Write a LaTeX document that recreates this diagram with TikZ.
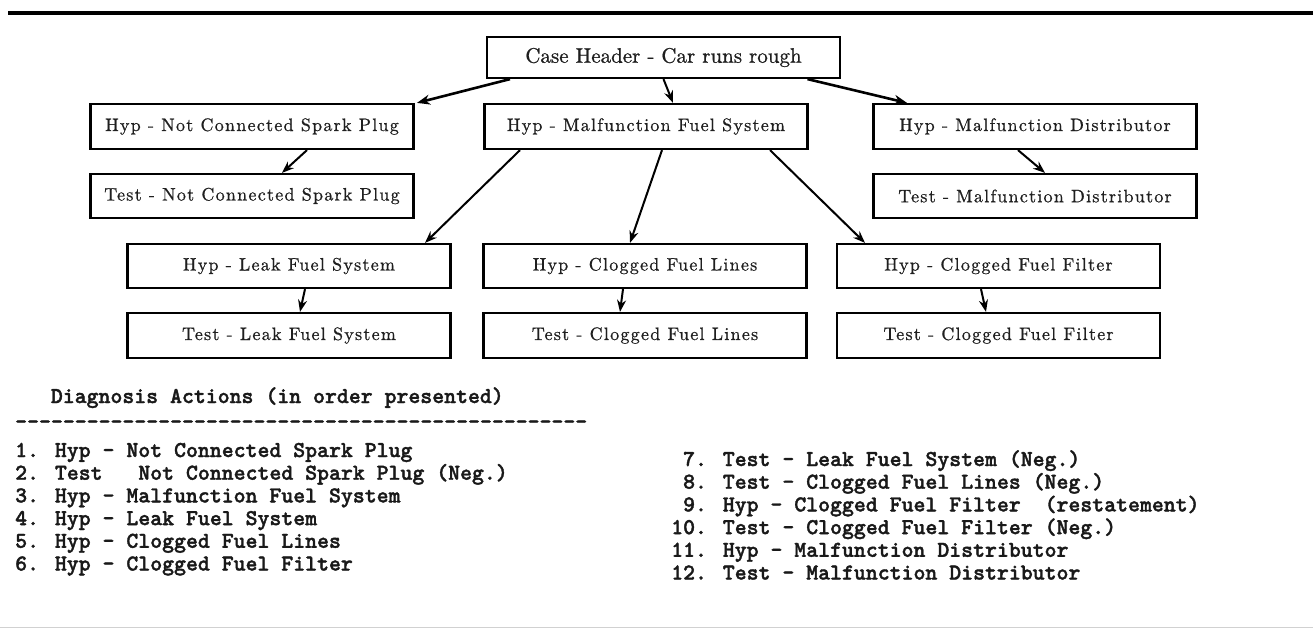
\documentclass[tikz,border=0pt]{standalone}
\usepackage{fontspec}
\usetikzlibrary{arrows.meta,calc}
\newfontfamily\boxfont{lmroman10-regular.otf}[LetterSpace=7, FakeBold=0.8]
\newfontfamily\headfont{lmroman10-regular.otf}[FakeBold=0.8]
\newfontfamily\listfont{lmmonolt10-bold.otf}[Ligatures=TeXOff, FakeBold=1.6]
\tikzset{
  box/.style={draw, line width=2.2pt, minimum width=323pt, minimum height=44pt,
    inner sep=0pt, text=black!88, font=\boxfont\fontsize{18}{20}\selectfont},
  headbox/.style={draw, line width=2.2pt, minimum width=353pt, minimum height=41pt,
    inner sep=0pt, text=black!88, font=\headfont\fontsize{21}{24}\selectfont},
  conn/.style={-{Stealth[length=12pt,width=9pt]}, line width=2pt},
  thickconn/.style={-{Stealth[length=13pt,width=10pt]}, line width=2.6pt},
  listtext/.style={anchor=base west, inner sep=0pt, text=black!90,
    font=\listfont\fontsize{22.7}{23}\selectfont},
  rule/.style={line width=4pt},
}
\begin{document}
\begin{tikzpicture}[x=1pt,y=-1pt]
\useasboundingbox (0,0) rectangle (1313,629);
% top rule
\coordinate (ruleL) at (8,13);
\coordinate (ruleR) at (1313,13);
\draw[rule] (ruleL) -- (ruleR);
\coordinate (botL) at (0,627);
\coordinate (botR) at (1313,627);
\draw[black!18, line width=1pt] (botL) -- (botR);

% boxes
\node[headbox] (ch) at (663.5,57.5) {Case Header - Car runs rough};
\node[box, minimum height=45pt] (hncsp) at (252,126.5) {Hyp - Not Connected Spark Plug};
\node[box, minimum height=45pt] (hmfs) at (646,126.5) {Hyp - Malfunction Fuel System};
\node[box, minimum height=45pt] (hmd) at (1035,126.5) {Hyp - Malfunction Distributor};
\node[box] (tncsp) at (252,196) {Test - Not Connected Spark Plug};
\node[box] (tmd) at (1035,196) {Test - Malfunction Distributor};
\node[box] (hleak) at (289,266) {Hyp - Leak Fuel System};
\node[box] (hcfl) at (645,266) {Hyp - Clogged Fuel Lines};
\node[box] (hcff) at (998.5,266) {Hyp - Clogged Fuel Filter};
\node[box, minimum height=45pt] (tleak) at (289,335.5) {Test - Leak Fuel System};
\node[box, minimum height=45pt] (tcfl) at (645,335.5) {Test - Clogged Fuel Lines};
\node[box, minimum height=45pt] (tcff) at (998.5,335.5) {Test - Clogged Fuel Filter};

% connectors
\draw[thickconn] ([xshift=-153.5pt]ch.south) -- ([xshift=165pt]hncsp.north);
\draw[conn] ([xshift=0pt]ch.south) -- ([xshift=27pt]hmfs.north);
\draw[thickconn] ([xshift=144pt]ch.south) -- ([xshift=-128pt]hmd.north);
\draw[conn] ([xshift=55pt]hncsp.south) -- ([xshift=30pt]tncsp.north);
\draw[conn] ([xshift=-17pt]hmd.south) -- ([xshift=10pt]tmd.north);
\draw[conn] ([xshift=-126pt]hmfs.south) -- ([xshift=136pt]hleak.north);
\draw[conn] ([xshift=16pt]hmfs.south) -- ([xshift=-15pt]hcfl.north);
\draw[conn] ([xshift=124pt]hmfs.south) -- ([xshift=-133.5pt]hcff.north);
\draw[conn] ([xshift=16pt]hleak.south) -- ([xshift=11pt]tleak.north);
\draw[conn] ([xshift=-22pt]hcfl.south) -- ([xshift=-25pt]tcfl.north);
\draw[conn] ([xshift=-17.5pt]hcff.south) -- ([xshift=-12.5pt]tcff.north);

% action list
\node[listtext] (head) at (50.7,403) {Diagnosis Actions (in order presented)};
\node[listtext] (dashes) at (15,428.5) {------------------------------------------------};
\node[listtext] (a1) at (15,457) {1. Hyp - Not Connected Spark Plug};
\node[listtext] (a2) at (15,479.7) {2. Test\ \ \ Not Connected Spark Plug (Neg.)};
\node[listtext] (a3) at (15,502.4) {3. Hyp - Malfunction Fuel System};
\node[listtext] (a4) at (15,525.1) {4. Hyp - Leak Fuel System};
\node[listtext] (a5) at (15,547.8) {5. Hyp - Clogged Fuel Lines};
\node[listtext] (a6) at (15,570.5) {6. Hyp - Clogged Fuel Filter};
\node[listtext] (a7) at (671,466) {\phantom{1}7. Test - Leak Fuel System (Neg.)};
\node[listtext] (a8) at (671,488.7) {\phantom{1}8. Test - Clogged Fuel Lines (Neg.)};
\node[listtext] (a9) at (671,511.4) {\phantom{1}9. Hyp - Clogged Fuel Filter\ \ (restatement)};
\node[listtext] (a10) at (671,534.1) {10. Test - Clogged Fuel Filter (Neg.)};
\node[listtext] (a11) at (671,556.8) {11. Hyp - Malfunction Distributor};
\node[listtext] (a12) at (671,579.5) {12. Test - Malfunction Distributor};
\end{tikzpicture}
\end{document}
